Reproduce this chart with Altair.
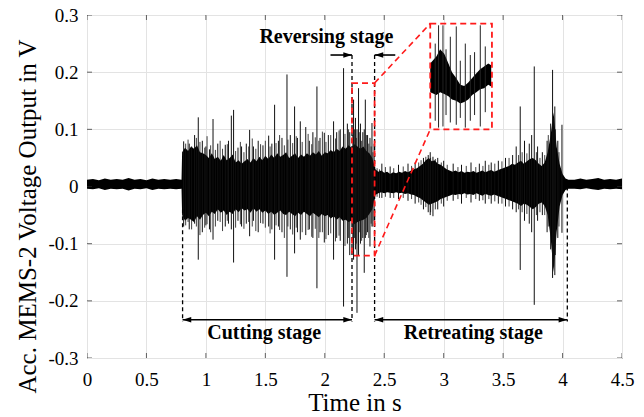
import altair as alt
import pandas as pd

FONT = "'Liberation Serif', 'Times New Roman', 'DejaVu Serif', serif"

# ---------------- data ----------------
# quiet baseline before cutting
pre_t  = [0.00, 0.05, 0.10, 0.15, 0.20, 0.25, 0.30, 0.35, 0.40, 0.45, 0.50, 0.55, 0.60, 0.65, 0.70, 0.75, 0.795]
pre_hi = [0.012, 0.013, 0.011, 0.014, 0.012, 0.013, 0.012, 0.015, 0.012, 0.013, 0.011, 0.014, 0.012, 0.013, 0.012, 0.013, 0.012]
pre_lo = [-0.004, -0.005, -0.003, -0.006, -0.004, -0.005, -0.004, -0.007, -0.004, -0.005, -0.003, -0.006, -0.004, -0.005, -0.004, -0.005, -0.004]

# active part, envelope every 0.025 s from 0.800 s
act_hi = [0.060, 0.068, 0.062, 0.070, 0.066, 0.072, 0.060, 0.058, 0.055, 0.050,
          0.058, 0.048, 0.052, 0.045, 0.055, 0.046, 0.050, 0.056, 0.042, 0.046,
          0.040, 0.044, 0.048, 0.042, 0.050, 0.044, 0.052, 0.046, 0.054, 0.048,
          0.056, 0.050, 0.058, 0.052, 0.055, 0.060, 0.050, 0.054, 0.058, 0.050,
          0.056, 0.052, 0.058, 0.054, 0.060, 0.056, 0.062, 0.054, 0.060, 0.058,
          0.064, 0.060, 0.066, 0.062, 0.070, 0.066, 0.072, 0.068, 0.074, 0.070,
          0.066, 0.070, 0.062, 0.058, 0.050, 0.030, 0.026, 0.028, 0.024, 0.026,
          0.022, 0.025, 0.023, 0.026, 0.024, 0.027, 0.025, 0.028, 0.030, 0.032,
          0.036, 0.040, 0.046, 0.050, 0.044, 0.046, 0.040, 0.038, 0.034, 0.030,
          0.028, 0.026, 0.028, 0.025, 0.027, 0.024, 0.026, 0.025, 0.027, 0.024,
          0.026, 0.028, 0.025, 0.027, 0.029, 0.026, 0.028, 0.030, 0.032, 0.034,
          0.036, 0.040, 0.038, 0.042, 0.045, 0.040, 0.044, 0.048, 0.050, 0.046,
          0.040, 0.036, 0.042, 0.060, 0.090, 0.130, 0.070, 0.040, 0.022, 0.014,
          0.012]
act_lo = [-0.050, -0.060, -0.055, -0.058, -0.062, -0.052, -0.058, -0.050, -0.046, -0.052,
          -0.044, -0.048, -0.040, -0.046, -0.042, -0.050, -0.044, -0.048, -0.040, -0.045,
          -0.038, -0.042, -0.040, -0.046, -0.038, -0.044, -0.040, -0.046, -0.042, -0.048,
          -0.044, -0.050, -0.046, -0.042, -0.048, -0.050, -0.044, -0.048, -0.052, -0.046,
          -0.050, -0.044, -0.048, -0.052, -0.046, -0.050, -0.054, -0.048, -0.052, -0.050,
          -0.056, -0.052, -0.058, -0.054, -0.060, -0.058, -0.062, -0.060, -0.066, -0.062,
          -0.060, -0.058, -0.055, -0.048, -0.040, -0.015, -0.012, -0.010, -0.012, -0.010,
          -0.011, -0.012, -0.010, -0.012, -0.011, -0.013, -0.012, -0.014, -0.015, -0.018,
          -0.020, -0.024, -0.028, -0.032, -0.030, -0.028, -0.026, -0.022, -0.020, -0.018,
          -0.016, -0.014, -0.015, -0.013, -0.014, -0.012, -0.014, -0.013, -0.015, -0.012,
          -0.014, -0.016, -0.013, -0.015, -0.016, -0.014, -0.016, -0.018, -0.020, -0.022,
          -0.024, -0.026, -0.028, -0.030, -0.034, -0.030, -0.032, -0.036, -0.040, -0.036,
          -0.030, -0.028, -0.034, -0.050, -0.090, -0.150, -0.080, -0.035, -0.015, -0.006,
          -0.004]
act_t = [round(0.8 + 0.025 * i, 3) for i in range(len(act_hi))]

# quiet baseline after retreating
post_t  = [4.10, 4.15, 4.20, 4.25, 4.30, 4.35, 4.40, 4.45, 4.50]
post_hi = [0.012, 0.014, 0.012, 0.013, 0.015, 0.012, 0.013, 0.012, 0.014]
post_lo = [-0.004, -0.005, -0.003, -0.005, -0.006, -0.004, -0.005, -0.004, -0.005]

# large individual spikes (time, top, bottom)
spike_t = [0.813, 0.860, 0.905, 0.936, 0.970, 1.000, 1.030, 1.060, 1.100, 1.163,
           1.190, 1.214, 1.233, 1.270, 1.300, 1.340, 1.368, 1.400, 1.440, 1.480,
           1.528, 1.555, 1.578, 1.610, 1.640, 1.682, 1.710, 1.746, 1.770, 1.794,
           1.840, 1.870, 1.900, 1.934, 1.960, 1.996, 2.030, 2.074, 2.100, 2.130,
           2.158, 2.190, 2.210,
           2.242, 2.258, 2.271, 2.284, 2.300, 2.320, 2.332, 2.341, 2.360, 2.380,
           2.397, 2.415,
           2.480, 2.550, 2.620, 2.700, 2.760, 2.830, 2.870, 2.887, 2.910, 2.950,
           3.000, 3.080, 3.150, 3.230, 3.300, 3.350, 3.400, 3.460, 3.520, 3.580,
           3.610, 3.644, 3.680, 3.720, 3.740, 3.762, 3.790, 3.830, 3.870, 3.900,
           3.916, 3.935, 3.960, 3.995]
spike_hi = [0.079, 0.075, 0.090, 0.121, 0.080, 0.070, 0.065, 0.118, 0.075, 0.073,
            0.080, 0.124, 0.134, 0.068, 0.070, 0.075, 0.099, 0.070, 0.080, 0.072,
            0.089, 0.075, 0.143, 0.080, 0.085, 0.196, 0.090, 0.140, 0.085, 0.114,
            0.104, 0.080, 0.095, 0.175, 0.085, 0.094, 0.090, 0.114, 0.095, 0.100,
            0.207, 0.110, 0.095,
            0.152, 0.120, 0.100, 0.172, 0.110, 0.095, 0.100, 0.152, 0.090, 0.085,
            0.111, 0.075,
            0.040, 0.035, 0.038, 0.040, 0.042, 0.050, 0.055, 0.060, 0.052, 0.050,
            0.045, 0.040, 0.038, 0.042, 0.040, 0.045, 0.042, 0.045, 0.050, 0.055,
            0.070, 0.140, 0.080, 0.075, 0.090, 0.210, 0.070, 0.060, 0.080, 0.110,
            0.204, 0.140, 0.080, 0.108]
spike_lo = [-0.070, -0.075, -0.065, -0.128, -0.080, -0.068, -0.075, -0.093, -0.060, -0.070,
            -0.065, -0.075, -0.133, -0.060, -0.070, -0.065, -0.087, -0.060, -0.080, -0.065,
            -0.070, -0.075, -0.128, -0.070, -0.080, -0.158, -0.075, -0.117, -0.080, -0.093,
            -0.085, -0.075, -0.090, -0.178, -0.080, -0.098, -0.085, -0.128, -0.090, -0.095,
            -0.210, -0.100, -0.120,
            -0.128, -0.110, -0.221, -0.120, -0.100, -0.090, -0.151, -0.090, -0.080, -0.105,
            -0.070, -0.060,
            -0.020, -0.020, -0.022, -0.025, -0.030, -0.040, -0.045, -0.050, -0.052, -0.040,
            -0.035, -0.025, -0.030, -0.028, -0.025, -0.030, -0.030, -0.030, -0.035, -0.040,
            -0.045, -0.146, -0.060, -0.065, -0.080, -0.207, -0.060, -0.050, -0.080, -0.110,
            -0.160, -0.155, -0.090, -0.081]

# smaller spikes that roughen the dense band
minor_t = [0.83, 0.85, 0.88, 0.92, 0.95, 0.99, 1.01, 1.04, 1.08, 1.12,
           1.14, 1.18, 1.25, 1.29, 1.32, 1.36, 1.39, 1.42, 1.46, 1.50,
           1.54, 1.59, 1.62, 1.66, 1.69, 1.73, 1.76, 1.81, 1.86, 1.89,
           1.92, 1.95, 1.98, 2.01, 2.05, 2.09, 2.12, 2.17, 2.20,
           2.235, 2.25, 2.265, 2.29, 2.31, 2.35, 2.37, 2.39, 2.405,
           2.44, 2.46, 2.51, 2.58, 2.66, 2.73, 2.79, 2.81, 2.85, 2.89,
           2.93, 2.98, 3.03, 3.12, 3.19, 3.27, 3.33, 3.38, 3.43, 3.49,
           3.55, 3.63, 3.66, 3.70, 3.78, 3.81, 3.85, 3.88, 3.925, 3.94, 3.97]
minor_hi = [0.075, 0.082, 0.070, 0.085, 0.078, 0.068, 0.088, 0.072, 0.064, 0.080,
            0.066, 0.074, 0.062, 0.078, 0.060, 0.070, 0.084, 0.066, 0.074, 0.080,
            0.070, 0.076, 0.090, 0.072, 0.082, 0.076, 0.088, 0.078, 0.092, 0.074,
            0.086, 0.080, 0.096, 0.078, 0.090, 0.084, 0.098, 0.092, 0.100,
            0.090, 0.100, 0.085, 0.095, 0.080, 0.090, 0.075, 0.070, 0.060,
            0.032, 0.030, 0.034, 0.032, 0.035, 0.036, 0.042, 0.046, 0.052, 0.050,
            0.048, 0.042, 0.038, 0.034, 0.036, 0.034, 0.036, 0.038, 0.040, 0.044,
            0.050, 0.055, 0.060, 0.058, 0.060, 0.050, 0.055, 0.090, 0.120, 0.100, 0.060]
minor_lo = [-0.068, -0.062, -0.075, -0.070, -0.085, -0.072, -0.066, -0.080, -0.070, -0.062,
            -0.078, -0.060, -0.072, -0.066, -0.074, -0.062, -0.070, -0.078, -0.064, -0.072,
            -0.082, -0.068, -0.076, -0.090, -0.070, -0.084, -0.072, -0.080, -0.076, -0.088,
            -0.074, -0.090, -0.080, -0.092, -0.082, -0.096, -0.086, -0.104, -0.090,
            -0.100, -0.090, -0.100, -0.080, -0.095, -0.085, -0.090, -0.065, -0.070,
            -0.018, -0.020, -0.018, -0.020, -0.020, -0.022, -0.028, -0.032, -0.036, -0.045,
            -0.040, -0.030, -0.025, -0.022, -0.020, -0.022, -0.024, -0.022, -0.026, -0.030,
            -0.035, -0.040, -0.045, -0.048, -0.050, -0.045, -0.050, -0.070, -0.140, -0.120, -0.070]

# zoomed inset (drawn in the data frame of the inset box)
inset_t  = [2.887, 2.94, 2.97, 3.005, 3.04, 3.07, 3.105, 3.14, 3.173, 3.207, 3.24, 3.275, 3.307, 3.34, 3.375, 3.40]
inset_hi = [0.215, 0.228, 0.240, 0.232, 0.215, 0.200, 0.190, 0.178, 0.176, 0.182, 0.190, 0.198, 0.205, 0.210, 0.215, 0.212]
inset_lo = [0.165, 0.160, 0.165, 0.162, 0.158, 0.152, 0.150, 0.145, 0.148, 0.152, 0.160, 0.165, 0.170, 0.172, 0.178, 0.175]
inset_spike_t  = [2.929, 2.957, 2.994, 3.020, 3.056, 3.106, 3.140, 3.182, 3.224, 3.260, 3.308, 3.350]
inset_spike_hi = [0.250, 0.282, 0.282, 0.240, 0.262, 0.280, 0.220, 0.250, 0.230, 0.235, 0.282, 0.245]
inset_spike_lo = [0.115, 0.103, 0.105, 0.125, 0.112, 0.108, 0.120, 0.103, 0.115, 0.125, 0.105, 0.130]

# annotations
ann_text = ["Cutting stage", "Retreating stage", "Reversing stage"]
ann_t    = [1.49, 3.25, 2.013]
ann_v    = [-0.266, -0.266, 0.251]

dash_t  = [0.804, 2.229, 2.419, 4.040]
dash_v1 = [-0.040, 0.230, 0.230, 0.000]
dash_v2 = [-0.236, -0.236, -0.236, -0.236]

arrow_x1 = [0.804, 2.419, 2.048, 2.593]
arrow_x2 = [2.229, 4.040, 2.229, 2.419]
arrow_v  = [-0.233, -0.233, 0.230, 0.230]

head_r_t = [2.229, 4.040, 2.229]
head_r_v = [-0.233, -0.233, 0.230]
head_l_t = [0.804, 2.419, 2.419]
head_l_v = [-0.233, -0.233, 0.230]

box_small = [2.229, 2.419, -0.121, 0.181]
box_inset = [2.887, 3.406, 0.100, 0.285]

x_ticks = [0, 0.5, 1, 1.5, 2, 2.5, 3, 3.5, 4, 4.5]
y_ticks = [-0.3, -0.2, -0.1, 0, 0.1, 0.2, 0.3]

# ---------------- frames ----------------
env = pd.DataFrame({
    "t": pre_t + act_t + post_t,
    "hi": pre_hi + act_hi + post_hi,
    "lo": pre_lo + act_lo + post_lo,
})
spikes = pd.DataFrame({"t": spike_t, "hi": spike_hi, "lo": spike_lo})
minor = pd.DataFrame({"t": minor_t, "hi": minor_hi, "lo": minor_lo})
inset_env = pd.DataFrame({"t": inset_t, "hi": inset_hi, "lo": inset_lo})
inset_sp = pd.DataFrame({"t": inset_spike_t, "hi": inset_spike_hi, "lo": inset_spike_lo})
ann = pd.DataFrame({"text": ann_text, "t": ann_t, "v": ann_v})
dashes = pd.DataFrame({"t": dash_t, "v1": dash_v1, "v2": dash_v2})
arrows = pd.DataFrame({"x1": arrow_x1, "x2": arrow_x2, "v": arrow_v})
heads_r = pd.DataFrame({"t": head_r_t, "v": head_r_v})
heads_l = pd.DataFrame({"t": head_l_t, "v": head_l_v})
boxes = pd.DataFrame({
    "x1": [box_small[0], box_inset[0]], "x2": [box_small[1], box_inset[1]],
    "y1": [box_small[2], box_inset[2]], "y2": [box_small[3], box_inset[3]],
})
connectors = pd.DataFrame({
    "x1": [box_small[1], box_small[1]], "y1": [box_small[3], box_small[2]],
    "x2": [box_inset[0], box_inset[0]], "y2": [box_inset[3], box_inset[2]],
})
xt = pd.DataFrame({"v": x_ticks})
yt = pd.DataFrame({"v": y_ticks})

xs = alt.Scale(domain=[0, 4.5], nice=False, zero=False)
ys = alt.Scale(domain=[-0.3, 0.3], nice=False, zero=False)

x_axis = alt.Axis(
    values=x_ticks, title="Time in s", grid=True, ticks=False, domain=False,
    labelExpr="format(datum.value, '~g')", labelPadding=12, titlePadding=1,
    labelFlush=False, labelOverlap=False,
)
y_axis = alt.Axis(
    values=y_ticks, title="Acc. MEMS-2 Voltage Output in V", grid=True, ticks=False, domain=False,
    labelExpr="datum.value < -0.0001 ? '-' + format(-datum.value, '.1~f') : format(datum.value, '.1~f')",
    labelPadding=9, titleX=-52, titleY=201, titleAngle=-90, titleBaseline="alphabetic",
    labelFlush=False, labelOverlap=False,
)

def X(f):
    return alt.X(f, type="quantitative", scale=xs, axis=x_axis)

def Y(f):
    return alt.Y(f, type="quantitative", scale=ys, axis=y_axis)

signal = alt.Chart(env).mark_area(color="black", opacity=1).encode(
    x=X("t"), y=Y("hi"), y2="lo"
)
minor_layer = alt.Chart(minor).mark_rule(color="#111111", strokeWidth=0.8).encode(
    x=X("t"), y=Y("hi"), y2="lo"
)
spike_layer = alt.Chart(spikes).mark_rule(color="#111111", strokeWidth=1).encode(
    x=X("t"), y=Y("hi"), y2="lo"
)
inset_area = alt.Chart(inset_env).mark_area(color="black").encode(
    x=X("t"), y=Y("hi"), y2="lo"
)
inset_spikes = alt.Chart(inset_sp).mark_rule(color="#222222", strokeWidth=1).encode(
    x=X("t"), y=Y("hi"), y2="lo"
)
dash_layer = alt.Chart(dashes).mark_rule(color="black", strokeWidth=1.3, strokeDash=[4, 3]).encode(
    x=X("t"), y=Y("v1"), y2="v2"
)
arrow_layer = alt.Chart(arrows).mark_rule(color="black", strokeWidth=1.6).encode(
    x=X("x1"), x2="x2", y=Y("v")
)
head_r_layer = alt.Chart(heads_r).mark_point(
    shape="M0,0L-1,-0.32L-1,0.32Z", filled=True, color="black", size=300, opacity=1
).encode(x=X("t"), y=Y("v"))
head_l_layer = alt.Chart(heads_l).mark_point(
    shape="M0,0L1,-0.32L1,0.32Z", filled=True, color="black", size=300, opacity=1
).encode(x=X("t"), y=Y("v"))
box_layer = alt.Chart(boxes).mark_rect(
    fillOpacity=0, stroke="#ff1a1a", strokeWidth=1.8, strokeDash=[6, 4]
).encode(x=X("x1"), x2="x2", y=Y("y1"), y2="y2")
conn_layer = alt.Chart(connectors).mark_rule(
    color="#ff1a1a", strokeWidth=1.6, strokeDash=[6, 4]
).encode(x=X("x1"), x2="x2", y=Y("y1"), y2="y2")
text_layer = alt.Chart(ann).mark_text(
    font=FONT, fontSize=20, fontWeight="bold", color="black", baseline="alphabetic", align="center"
).encode(x=X("t"), y=Y("v"), text="text:N")

tick_b = alt.Chart(xt).mark_tick(color="#262626", size=10, thickness=1, orient="vertical", clip=True).encode(
    x=X("v"), y=alt.value(343))
tick_t = alt.Chart(xt).mark_tick(color="#262626", size=10, thickness=1, orient="vertical", clip=True).encode(
    x=X("v"), y=alt.value(0))
tick_l = alt.Chart(yt).mark_tick(color="#262626", size=10, thickness=1, orient="horizontal", clip=True).encode(
    y=Y("v"), x=alt.value(0))
tick_r = alt.Chart(yt).mark_tick(color="#262626", size=10, thickness=1, orient="horizontal", clip=True).encode(
    y=Y("v"), x=alt.value(535))

chart = alt.layer(
    signal, minor_layer, spike_layer, inset_area, inset_spikes,
    dash_layer, arrow_layer, head_r_layer, head_l_layer,
    box_layer, conn_layer, text_layer,
    tick_b, tick_t, tick_l, tick_r,
).properties(
    width=535, height=343,
    autosize=alt.AutoSizeParams(type="none"),
    padding={"left": 87, "top": 15, "right": 22, "bottom": 59},
    background="white",
).configure_view(
    stroke="#262626", strokeWidth=1
).configure_axis(
    labelFont=FONT, labelFontSize=19, labelColor="black",
    titleFont=FONT, titleFontSize=25, titleFontWeight="normal", titleColor="black",
    gridColor="#e3e3e3", gridWidth=1,
)

chart.save("out.html", embed_options={"renderer": "svg", "actions": False})
